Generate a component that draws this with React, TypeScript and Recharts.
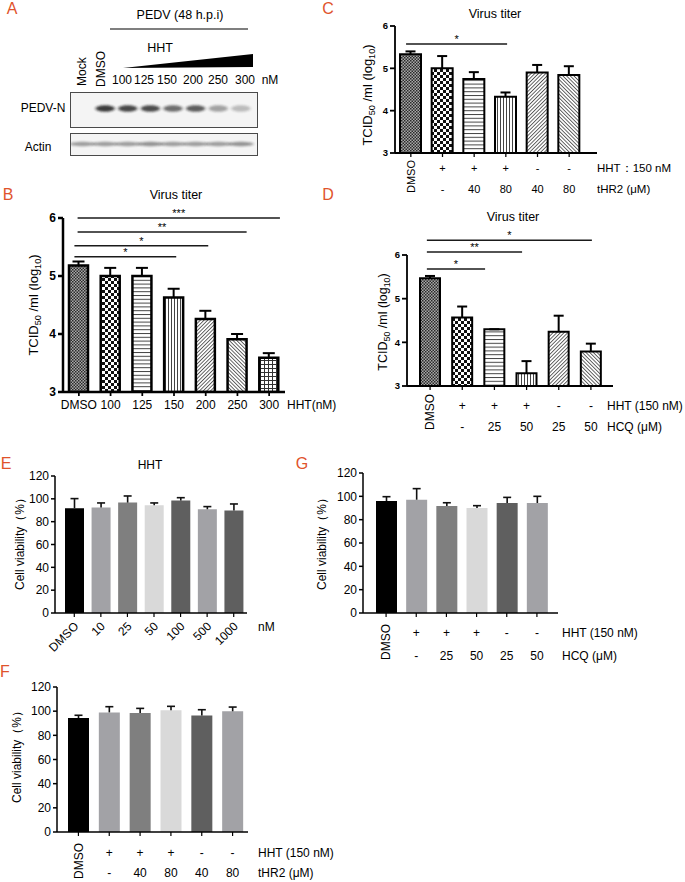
import React from 'react';
import { BarChart, Bar, XAxis, YAxis, ErrorBar, ReferenceLine, Cell } from 'recharts';

const FONT = '"Liberation Sans", Arial, Helvetica, sans-serif';
const RED = '#E0532B';

// ---------- Panel A (western blot) ----------
const blotLanes = ['Mock', 'DMSO', '100', '125', '150', '200', '250', '300'];
const pedvN = [0, 0.85, 0.8, 0.78, 0.62, 0.7, 0.38, 0.26];
const actin = [0.4, 0.4, 0.4, 0.45, 0.4, 0.4, 0.4, 0.45];
const blotDoses = ['100', '125', '150', '200', '250', '300'];

// ---------- Panel B ----------
const bCats = ['DMSO', '100', '125', '150', '200', '250', '300'];
const bMean = [5.18, 5.0, 5.0, 4.63, 4.26, 3.91, 3.59];
const bSD = [0.07, 0.14, 0.14, 0.15, 0.14, 0.09, 0.08];
const bFills = ['dense', 'checker', 'hlines', 'vlines', 'diagA', 'diagB', 'grid'];
const bSig = [
  { from: -0.04, to: 6.34, y: 6.0, label: '***' },
  { from: -0.04, to: 5.29, y: 5.76, label: '**' },
  { from: -0.14, to: 4.08, y: 5.52, label: '*' },
  { from: -0.14, to: 3.07, y: 5.33, label: '*' },
];

// ---------- Panel C ----------
const cCats = ['DMSO', 'HHT', 'HHT+tHR2 40', 'HHT+tHR2 80', 'tHR2 40', 'tHR2 80'];
const cRow1 = ['DMSO', '+', '+', '+', '-', '-'];
const cRow2 = ['', '-', '40', '80', '40', '80'];
const cMean = [5.33, 5.0, 4.75, 4.33, 4.9, 4.84];
const cSD = [0.07, 0.29, 0.16, 0.1, 0.18, 0.21];
const cFills = ['dense', 'checker', 'hlines', 'vlines', 'diagA', 'diagB'];
const cSig = [{ from: -0.15, to: 3.04, y: 5.575, label: '*' }];

// ---------- Panel D ----------
const dCats = ['DMSO', 'HHT', 'HHT+HCQ 25', 'HHT+HCQ 50', 'HCQ 25', 'HCQ 50'];
const dRow1 = ['DMSO', '+', '+', '+', '-', '-'];
const dRow2 = ['', '-', '25', '50', '25', '50'];
const dMean = [5.47, 4.57, 4.3, 3.29, 4.24, 3.79];
const dSD = [0.05, 0.25, 0, 0.28, 0.37, 0.18];
const dFills = ['dense', 'checker', 'hlines', 'vlines', 'diagA', 'diagB'];
const dSig = [
  { from: -0.1, to: 5.03, y: 6.34, label: '*' },
  { from: -0.1, to: 2.86, y: 6.07, label: '**' },
  { from: -0.1, to: 1.71, y: 5.68, label: '*' },
];

// ---------- Panel E ----------
const eCats = ['DMSO', '10', '25', '50', '100', '500', '1000'];
const eMean = [91.8, 92.3, 96.7, 94.4, 98.5, 90.9, 89.7];
const eSD = [8.4, 4.1, 5.8, 2.0, 2.5, 2.3, 5.8];
const eColors = ['#000000', '#a2a2a6', '#7f7f7f', '#d9d9d9', '#5f5f5f', '#a2a2a6', '#5f5f5f'];

// ---------- Panel G ----------
const gCats = ['DMSO', 'HHT', 'HHT+HCQ 25', 'HHT+HCQ 50', 'HCQ 25', 'HCQ 50'];
const gRow1 = ['DMSO', '+', '+', '+', '-', '-'];
const gRow2 = ['', '-', '25', '50', '25', '50'];
const gMean = [96.0, 97.1, 91.7, 89.9, 94.3, 94.3];
const gSD = [3.7, 9.5, 2.8, 2.1, 4.8, 5.7];
const gColors = ['#000000', '#a2a2a6', '#7f7f7f', '#d9d9d9', '#5f5f5f', '#a2a2a6'];

// ---------- Panel F ----------
const fCats = ['DMSO', 'HHT', 'HHT+tHR2 40', 'HHT+tHR2 80', 'tHR2 40', 'tHR2 80'];
const fRow1 = ['DMSO', '+', '+', '+', '-', '-'];
const fRow2 = ['', '-', '40', '80', '40', '80'];
const fMean = [94.3, 99.0, 98.5, 100.7, 96.5, 99.9];
const fSD = [2.3, 4.7, 3.8, 3.3, 4.7, 3.5];
const fColors = ['#000000', '#a2a2a6', '#7f7f7f', '#d9d9d9', '#5f5f5f', '#a2a2a6'];

const titerTicks = [3, 4, 5, 6];
const viaTicks = [0, 20, 40, 60, 80, 100, 120];

// ---------------- shapes / ticks ----------------
const BandShape = (p: any) => {
  const { x, y, width, height, payload } = p;
  const cx = x + width / 2;
  const cy = y + height * payload.pos;
  return (
    <ellipse
      cx={cx}
      cy={cy}
      rx={width * payload.rx}
      ry={payload.ry}
      fill="#1a1a1a"
      opacity={payload.v}
      filter="url(#blotBlur)"
    />
  );
};

const RowTick = (p: any) => {
  const { x, y, payload, row1, row2, d1, d2, dEnd, fs } = p;
  const i = payload.index ?? p.index;
  if (i === 0) {
    return (
      <text
        x={x}
        y={y + dEnd}
        transform={`rotate(-90 ${x} ${y + dEnd})`}
        textAnchor="end"
        dy="0.35em"
        fontSize={fs}
        fill="#000"
      >
        {row1[0]}
      </text>
    );
  }
  return (
    <g>
      <text x={x} y={y + d1} textAnchor="middle" dy="0.35em" fontSize={fs} fill="#000">
        {row1[i]}
      </text>
      <text x={x} y={y + d2} textAnchor="middle" dy="0.35em" fontSize={fs} fill="#000">
        {row2[i]}
      </text>
    </g>
  );
};

const RotTick = (p: any) => {
  const { x, y, payload } = p;
  const ax = x + 2;
  const ay = y + 5;
  return (
    <text
      x={ax}
      y={ay}
      transform={`rotate(-45 ${ax} ${ay})`}
      textAnchor="end"
      dy="0.35em"
      fontSize={12}
      fill="#000"
    >
      {payload.value}
    </text>
  );
};

// ---------------- generic charts ----------------
function TiterChart(props: any) {
  const {
    left, top, width, height, marginTop, yw, xh, padding, cats, means, sds, fills, sigs,
    barSize, sw, axisW, yFont, yBold, tick, tickMargin, capW,
  } = props;
  const data = cats.map((c: string, i: number) => ({ cat: c, idx: i, mean: means[i], err: [0, sds[i]] }));
  return (
    <div style={{ position: 'absolute', left, top }}>
      <BarChart width={width} height={height} data={data} margin={{ top: marginTop, right: 5, bottom: 0, left: 0 }}>
        <XAxis
          dataKey="cat"
          height={xh}
          padding={padding}
          interval={0}
          axisLine={{ stroke: '#000', strokeWidth: axisW }}
          tickLine={{ stroke: '#000', strokeWidth: axisW * 0.7 }}
          tickSize={4}
          tickMargin={tickMargin}
          tick={tick}
        />
        <XAxis
          xAxisId="n"
          dataKey="idx"
          type="number"
          hide
          domain={[-0.5, cats.length - 0.5]}
          padding={padding}
          allowDataOverflow
        />
        <YAxis
          width={yw}
          domain={[3, 6]}
          ticks={titerTicks}
          allowDataOverflow
          axisLine={{ stroke: '#000', strokeWidth: axisW }}
          tickLine={{ stroke: '#000', strokeWidth: axisW }}
          tickSize={5}
          tickMargin={2}
          tick={{ fill: '#000', fontSize: yFont, fontWeight: yBold ? 'bold' : 'normal' }}
        />
        <Bar dataKey="mean" barSize={barSize} stroke="#000" strokeWidth={sw} isAnimationActive={false}>
          {data.map((d: any, i: number) => (
            <Cell key={i} fill={`url(#${fills[i]})`} />
          ))}
          <ErrorBar dataKey="err" direction="y" width={capW} stroke="#000" strokeWidth={2} isAnimationActive={false} />
        </Bar>
        {sigs.map((s: any, i: number) => (
          <ReferenceLine
            key={i}
            xAxisId="n"
            ifOverflow="visible"
            segment={[{ x: s.from, y: s.y }, { x: s.to, y: s.y }]}
            stroke="#1a1a1a"
            strokeWidth={1.5}
            label={{ value: s.label, position: 'top', offset: 1, fontSize: 11, fill: '#000' }}
          />
        ))}
      </BarChart>
    </div>
  );
}

function ViaChart(props: any) {
  const { left, top, width, height, yw, xh, padding, cats, means, sds, colors, barSize, tick, tickMargin } = props;
  const data = cats.map((c: string, i: number) => ({ cat: c, mean: means[i], err: [0, sds[i]] }));
  return (
    <div style={{ position: 'absolute', left, top }}>
      <BarChart width={width} height={height} data={data} margin={{ top: 10, right: 5, bottom: 0, left: 0 }}>
        <XAxis
          dataKey="cat"
          height={xh}
          padding={padding}
          interval={0}
          axisLine={{ stroke: '#000', strokeWidth: 1.5 }}
          tickLine={{ stroke: '#000', strokeWidth: 1.2 }}
          tickSize={4}
          tickMargin={tickMargin}
          tick={tick}
        />
        <YAxis
          width={yw}
          domain={[0, 120]}
          ticks={viaTicks}
          allowDataOverflow
          axisLine={{ stroke: '#000', strokeWidth: 1.5 }}
          tickLine={{ stroke: '#000', strokeWidth: 1.5 }}
          tickSize={4}
          tickMargin={2}
          tick={{ fill: '#000', fontSize: 12 }}
        />
        <Bar dataKey="mean" barSize={barSize} isAnimationActive={false}>
          {data.map((d: any, i: number) => (
            <Cell key={i} fill={colors[i]} />
          ))}
          <ErrorBar dataKey="err" direction="y" width={4} stroke="#111" strokeWidth={1.6} isAnimationActive={false} />
        </Bar>
      </BarChart>
    </div>
  );
}

function BlotStrip(props: any) {
  const { left, top, w, h, values, pos, rx, ry } = props;
  const data = blotLanes.map((l, i) => ({ lane: l, full: 1, v: values[i], pos, rx, ry }));
  return (
    <div
      style={{
        position: 'absolute',
        left,
        top,
        width: w,
        height: h,
        border: '1.5px solid #4a4a4a',
        boxSizing: 'border-box',
        background: '#f4f4f4',
      }}
    >
      <BarChart width={w - 3} height={h - 3} data={data} margin={{ top: 0, right: 4, bottom: 0, left: 0 }} barCategoryGap={0}>
        <XAxis dataKey="lane" hide />
        <YAxis hide domain={[0, 1]} />
        <Bar dataKey="full" shape={BandShape} isAnimationActive={false} />
      </BarChart>
    </div>
  );
}

function TcidLabel({ x, y, fs }: any) {
  const sfs = fs * 0.7;
  return (
    <text transform={`translate(${x},${y}) rotate(-90)`} textAnchor="middle" dy="0.35em" fontSize={fs} fill="#000">
      TCID
      <tspan fontSize={sfs} dy={3}>50</tspan>
      <tspan dy={-3}> /ml (log</tspan>
      <tspan fontSize={sfs} dy={3}>10</tspan>
      <tspan dy={-3}>)</tspan>
    </text>
  );
}

function ViaLabel({ x, y }: any) {
  return (
    <text transform={`translate(${x},${y}) rotate(-90)`} textAnchor="middle" dy="0.35em" fontSize={12} fill="#000">
      Cell viability（%）
    </text>
  );
}

const T = ({ x, y, children, fs = 12, anchor = 'start', fill = '#000', weight = 'normal' }: any) => (
  <text x={x} y={y} dy="0.35em" fontSize={fs} textAnchor={anchor} fill={fill} fontWeight={weight}>
    {children}
  </text>
);

export default function App() {
  return (
    <div
      style={{
        position: 'absolute',
        left: 0,
        top: 0,
        width: 685,
        height: 882,
        background: '#fff',
        fontFamily: FONT,
        overflow: 'hidden',
      }}
    >
      <style>{`.recharts-errorBar line:nth-of-type(3){display:none}`}</style>
      <svg width={0} height={0} style={{ position: 'absolute' }}>
        <defs>
          <filter id="blotBlur" x="-50%" y="-200%" width="200%" height="500%">
            <feGaussianBlur stdDeviation="1.6 1.2" />
          </filter>
          <pattern id="dense" patternUnits="userSpaceOnUse" width={3} height={3}>
            <rect width={3} height={3} fill="#a8a8a8" />
            <rect x={0} y={0} width={1.5} height={1.5} fill="#2a2a2a" />
            <rect x={1.5} y={1.5} width={1.5} height={1.5} fill="#2a2a2a" />
          </pattern>
          <pattern id="checker" patternUnits="userSpaceOnUse" width={6} height={6}>
            <rect width={6} height={6} fill="#fff" />
            <rect x={0} y={0} width={3} height={3} fill="#111" />
            <rect x={3} y={3} width={3} height={3} fill="#111" />
          </pattern>
          <pattern id="hlines" patternUnits="userSpaceOnUse" width={4} height={3.8}>
            <rect width={4} height={3.8} fill="#fff" />
            <rect x={0} y={0} width={4} height={1} fill="#444" />
          </pattern>
          <pattern id="vlines" patternUnits="userSpaceOnUse" width={3} height={4}>
            <rect width={3} height={4} fill="#fff" />
            <rect x={0} y={0} width={1} height={4} fill="#444" />
          </pattern>
          <pattern id="diagA" patternUnits="userSpaceOnUse" width={2.6} height={4} patternTransform="rotate(45)">
            <rect width={2.6} height={4} fill="#fff" />
            <rect x={0} y={0} width={0.9} height={4} fill="#555" />
          </pattern>
          <pattern id="diagB" patternUnits="userSpaceOnUse" width={2.6} height={4} patternTransform="rotate(-45)">
            <rect width={2.6} height={4} fill="#fff" />
            <rect x={0} y={0} width={0.9} height={4} fill="#555" />
          </pattern>
          <pattern id="grid" patternUnits="userSpaceOnUse" width={4} height={4}>
            <rect width={4} height={4} fill="#fff" />
            <rect x={0} y={0} width={4} height={1} fill="#333" />
            <rect x={0} y={0} width={1} height={4} fill="#333" />
          </pattern>
        </defs>
      </svg>

      {/* Panel A blots */}
      <BlotStrip left={70} top={92} w={188} h={36} values={pedvN} pos={0.47} rx={0.42} ry={3.2} />
      <BlotStrip left={70} top={133} w={188} h={23} values={actin} pos={0.5} rx={0.55} ry={2.2} />

      {/* Panel B */}
      <TiterChart
        left={0} top={200} width={290} height={220} marginTop={18} yw={63} xh={28}
        padding={{ left: 0, right: 0 }} cats={bCats} means={bMean} sds={bSD} fills={bFills} sigs={bSig}
        barSize={19} sw={2.5} axisW={2.5} yFont={12} yBold capW={6} tickMargin={4}
        tick={{ fill: '#000', fontSize: 12 }}
      />

      {/* Panel C */}
      <TiterChart
        left={365} top={0} width={237} height={198} marginTop={26} yw={30} xh={45}
        padding={{ left: 0, right: 12 }} cats={cCats} means={cMean} sds={cSD} fills={cFills} sigs={cSig}
        barSize={21} sw={2} axisW={1.8} yFont={9.5} yBold capW={5} tickMargin={2}
        tick={<RowTick row1={cRow1} row2={cRow2} d1={9} d2={30} dEnd={1} fs={11} />}
      />

      {/* Panel D */}
      <TiterChart
        left={377} top={225} width={241} height={211} marginTop={30} yw={30} xh={50}
        padding={{ left: 7, right: 6 }} cats={dCats} means={dMean} sds={dSD} fills={dFills} sigs={dSig}
        barSize={20} sw={2} axisW={1.8} yFont={9.5} yBold capW={5} tickMargin={2}
        tick={<RowTick row1={dRow1} row2={dRow2} d1={14} d2={35} dEnd={2} fs={12} />}
      />

      {/* Panel E */}
      <ViaChart
        left={20} top={466} width={232} height={192} yw={35} xh={45}
        padding={{ left: 6, right: 0 }} cats={eCats} means={eMean} sds={eSD} colors={eColors}
        barSize={19} tickMargin={2} tick={<RotTick />}
      />

      {/* Panel G */}
      <ViaChart
        left={333} top={463} width={230} height={200} yw={30} xh={50}
        padding={{ left: 8, right: 6 }} cats={gCats} means={gMean} sds={gSD} colors={gColors}
        barSize={21} tickMargin={2}
        tick={<RowTick row1={gRow1} row2={gRow2} d1={14} d2={37} dEnd={5} fs={12} />}
      />

      {/* Panel F */}
      <ViaChart
        left={22} top={677} width={231} height={205} yw={35} xh={50}
        padding={{ left: 6, right: 0 }} cats={fCats} means={fMean} sds={fSD} colors={fColors}
        barSize={21} tickMargin={2}
        tick={<RowTick row1={fRow1} row2={fRow2} d1={15} d2={35} dEnd={5} fs={12} />}
      />

      {/* Text overlay */}
      <svg
        width={685}
        height={882}
        style={{ position: 'absolute', left: 0, top: 0, pointerEvents: 'none' }}
      >
        {/* panel letters */}
        <T x={12} y={8} fs={16} anchor="middle" fill={RED}>A</T>
        <T x={328} y={8} fs={16} anchor="middle" fill={RED}>C</T>
        <T x={8} y={194} fs={16} anchor="middle" fill={RED}>B</T>
        <T x={328} y={194} fs={16} anchor="middle" fill={RED}>D</T>
        <T x={6} y={463} fs={16} anchor="middle" fill={RED}>E</T>
        <T x={302} y={463} fs={16} anchor="middle" fill={RED}>G</T>
        <T x={5} y={671} fs={16} anchor="middle" fill={RED}>F</T>

        {/* Panel A text */}
        <T x={180} y={15} fs={12.5} anchor="middle">PEDV (48 h.p.i)</T>
        <line x1={110} y1={29} x2={248} y2={29} stroke="#000" strokeWidth={1.2} />
        <T x={160} y={48} fs={12.5} anchor="middle">HHT</T>
        <polygon points="123,68 253,54 253,67" fill="#000" />
        <text transform="translate(82,86) rotate(-90)" dy="0.35em" fontSize={12} fill="#000">Mock</text>
        <text transform="translate(101,87) rotate(-90)" dy="0.35em" fontSize={12} fill="#000">DMSO</text>
        {blotDoses.map((d, i) => (
          <T key={d} x={[122, 144, 167, 193, 218, 245][i]} y={80} fs={12} anchor="middle">{d}</T>
        ))}
        <T x={270} y={80} fs={12} anchor="middle">nM</T>
        <T x={43} y={108} fs={12} anchor="middle">PEDV-N</T>
        <T x={38} y={147} fs={12} anchor="middle">Actin</T>

        {/* titles */}
        <T x={176} y={195} fs={12.5} anchor="middle">Virus titer</T>
        <T x={495} y={14} fs={12.5} anchor="middle">Virus titer</T>
        <T x={513} y={217} fs={12.5} anchor="middle">Virus titer</T>
        <T x={150} y={465} fs={12} anchor="middle">HHT</T>

        {/* y labels */}
        <TcidLabel x={33} y={305} fs={13} />
        <TcidLabel x={367} y={95} fs={13} />
        <TcidLabel x={383} y={322} fs={12.5} />
        <ViaLabel x={20} y={541} />
        <ViaLabel x={322} y={541} />
        <ViaLabel x={17} y={754} />

        {/* right side labels */}
        <T x={287} y={405} fs={12}>HHT(nM)</T>
        <T x={597} y={168} fs={11.5}>HHT：150 nM</T>
        <T x={597} y={189} fs={11.5}>tHR2 (μM)</T>
        <T x={607} y={406} fs={12}>HHT (150 nM)</T>
        <T x={607} y={427} fs={12}>HCQ (μM)</T>
        <T x={258} y={627} fs={12}>nM</T>
        <T x={562} y={633} fs={12}>HHT (150 nM)</T>
        <T x={562} y={656} fs={12}>HCQ (μM)</T>
        <T x={258} y={853} fs={12}>HHT (150 nM)</T>
        <T x={258} y={873} fs={12}>tHR2 (μM)</T>
      </svg>
    </div>
  );
}
